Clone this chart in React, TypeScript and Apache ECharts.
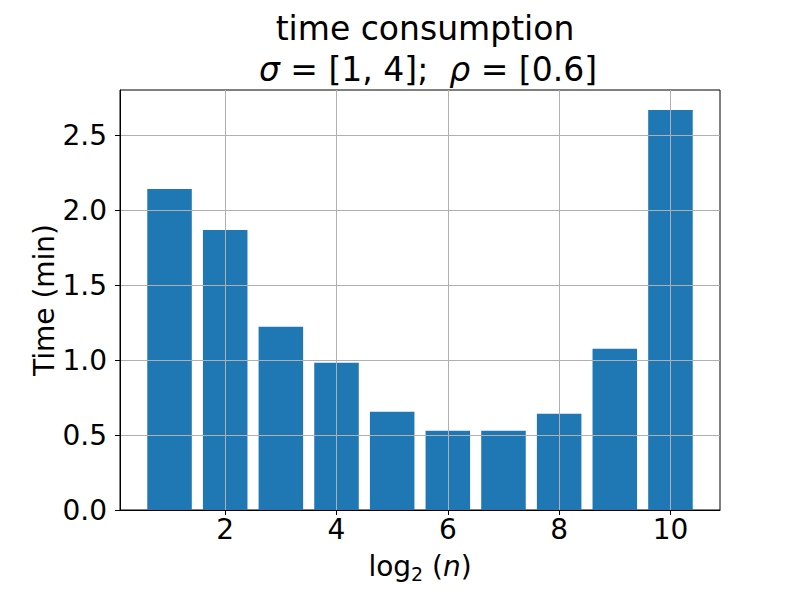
import React, { useEffect, useRef } from "react";
import * as echarts from "echarts";

const xValues = [1, 2, 3, 4, 5, 6, 7, 8, 9, 10];
const times = [2.142, 1.869, 1.222, 0.982, 0.655, 0.529, 0.529, 0.642, 1.076, 2.669];
const xTicks = [2, 4, 6, 8, 10];
const yTicks = [0, 0.5, 1.0, 1.5, 2.0, 2.5];
const BAR_W = 0.8;

const FONT = "DejaVu Sans";

export default function App() {
  const ref = useRef<HTMLDivElement>(null);
  useEffect(() => {
    if (!ref.current) return;
    const chart = echarts.init(ref.current, null, { renderer: "svg" });
    const data = xValues.map((x, i) => [x, times[i]]);
    chart.setOption({
      animation: false,
      backgroundColor: "#ffffff",
      title: [
        {
          text: "time consumption",
          left: 420,
          top: 7,
          textAlign: "center",
          textStyle: { fontFamily: FONT, fontSize: 33, fontWeight: "normal", color: "#000" },
        },
        {
          text: "{i|σ} = [1, 4];  {i|ρ} = [0.6]",
          left: 423,
          top: 48,
          textAlign: "center",
          textStyle: {
            fontFamily: FONT,
            fontSize: 33,
            fontWeight: "normal",
            color: "#000",
            rich: {
              i: { fontFamily: FONT, fontSize: 33, fontStyle: "italic", color: "#000" },
            },
          },
        },
      ],
      grid: {
        left: 120,
        right: 80,
        top: 90,
        bottom: 90,
        show: true,
        borderColor: "#000",
        borderWidth: 1,
      },
      xAxis: {
        type: "value",
        min: 0.11,
        max: 10.89,
        z: 3,
        name: "log{sub|2} ({i|n})",
        nameLocation: "middle",
        nameGap: 40,
        nameMoveOverlap: false,
        nameTextStyle: {
          fontFamily: FONT,
          fontSize: 28,
          color: "#000",
          rich: {
            sub: { fontFamily: FONT, fontSize: 19, color: "#000", padding: [14, 0, 0, 0] },
            i: { fontFamily: FONT, fontSize: 28, fontStyle: "italic", color: "#000" },
          },
        },
        axisLine: { show: true, lineStyle: { color: "#000", width: 1 } },
        axisTick: {
          show: true,
          length: 5,
          customValues: xTicks,
          lineStyle: { color: "#000", width: 1 },
        },
        axisLabel: {
          customValues: xTicks,
          margin: 5,
          fontFamily: FONT,
          fontSize: 28,
          color: "#000",
          formatter: (v: number) => String(v),
        },
        splitLine: { show: true, lineStyle: { color: "#b0b0b0", width: 1 } },
      },
      yAxis: {
        type: "value",
        min: 0,
        max: 2.8025,
        interval: 0.5,
        z: 3,
        name: "Time (min)",
        nameLocation: "middle",
        nameGap: 62,
        nameMoveOverlap: false,
        nameTextStyle: { fontFamily: FONT, fontSize: 28, color: "#000" },
        axisLine: { show: true, lineStyle: { color: "#000", width: 1 } },
        axisTick: {
          show: true,
          length: 5,
          customValues: yTicks,
          lineStyle: { color: "#000", width: 1 },
        },
        axisLabel: {
          customValues: yTicks,
          margin: 13,
          fontFamily: FONT,
          fontSize: 28,
          color: "#000",
          formatter: (v: number) => v.toFixed(1),
        },
        splitLine: { show: true, lineStyle: { color: "#b0b0b0", width: 1 } },
      },
      series: [
        {
          type: "custom",
          data,
          z: 2,
          renderItem: (_params: any, api: any) => {
            const x = api.value(0);
            const y = api.value(1);
            const p0 = api.coord([x - BAR_W / 2, y]);
            const p1 = api.coord([x + BAR_W / 2, 0]);
            return {
              type: "rect",
              shape: { x: p0[0], y: p0[1], width: p1[0] - p0[0], height: p1[1] - p0[1] },
              style: { fill: "#1f77b4" },
            };
          },
        },
      ],
    });
    return () => chart.dispose();
  }, []);
  return (
    <div
      ref={ref}
      style={{ position: "absolute", left: 0, top: 0, width: 800, height: 600 }}
    />
  );
}
